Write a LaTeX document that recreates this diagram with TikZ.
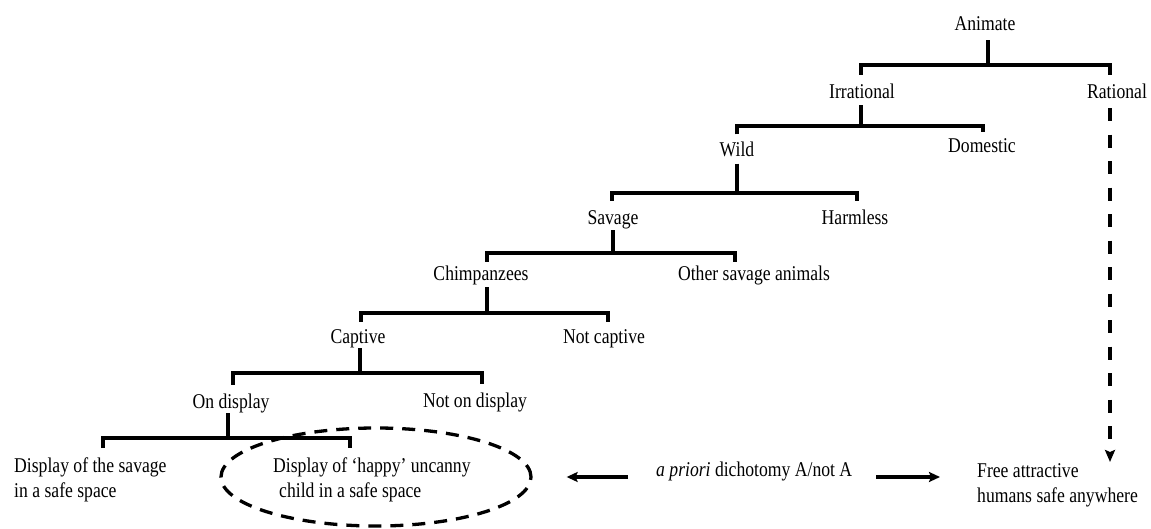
\documentclass[tikz,border=0pt]{standalone}
\usepackage{fontspec}
\setmainfont{Liberation Serif}[FakeStretch=0.84]
\usetikzlibrary{calc,shapes.geometric,arrows.meta}

\tikzset{
    lbl/.style={inner sep=0pt, text height=15pt, text depth=4pt,
        font=\fontsize{21}{25}\selectfont},
    lbltwo/.style={inner sep=0pt, align=left, anchor=north west,
        font=\fontsize{21}{25}\selectfont},
    tree/.style={line width=3.3pt, line join=miter},
    hint/.style={line width=3.3pt, -{Stealth[length=11pt,width=10pt,inset=2pt]}},
    dasharrow/.style={line width=3.3pt, dash pattern=on 13pt off 13.5pt,
        -{Stealth[length=12pt,width=10pt,inset=2pt]}},
}

\begin{document}
\begin{tikzpicture}[x=1pt, y=-1pt]
    \useasboundingbox (0,0) rectangle (1151,529);

    % categories, top to bottom
    \node[lbl] (animate)    at (985,25.5)  {Animate};
    \node[lbl] (irrational) at (862,93.5)  {Irrational};
    \node[lbl] (rational)   at (1117,93.5) {Rational};
    \node[lbl] (wild)       at (737,151)   {Wild};
    \node[lbl] (domestic)   at (982,147)   {Domestic};
    \node[lbl] (savage)     at (613,219.5) {Savage};
    \node[lbl] (harmless)   at (855,219.5) {Harmless};
    \node[lbl] (chimps)     at (481,274.5) {Chimpanzees};
    \node[lbl] (othersav)   at (754,274.5) {Other savage animals};
    \node[lbl] (captive)    at (358,337.5) {Captive};
    \node[lbl] (notcapt)    at (604,337.5) {Not captive};
    \node[lbl] (ondisp)     at (231,402.5) {On display};
    \node[lbl] (notondisp)  at (475,401.5) {Not on display};

    \node[lbltwo] (savdisp)   at (14,458)  {Display of the savage\\in a safe space};
    \node[lbltwo] (happydisp) at (273,458) {Display of `happy' uncanny\\\hspace*{6pt}child in a safe space};
    \node[lbltwo] (free)      at (977,463) {Free attractive\\humans safe anywhere};
    \node[lbl, anchor=west] (apriori) at (656,470.5) {\textit{a priori} dichotomy A/not A};

    % the uncanny child
    \node[draw, ellipse, line width=3.3pt, dash pattern=on 13pt off 9pt,
        minimum width=310pt, minimum height=98pt] (halo) at (376,477) {};

    % bars of the tree
    \coordinate (bA) at (988,65);
    \coordinate (bI) at (861,126);
    \coordinate (bW) at (737,193);
    \coordinate (bS) at (613,253);
    \coordinate (bC) at (487,313);
    \coordinate (bP) at (360,373);
    \coordinate (bD) at (228,438);

    \draw[tree] (animate.south -| bA) ++(0,5) -- (bA);
    \draw[tree] ($(irrational.north)+(-1,-9)$) |- (bA) -| ($(rational.north)+(-7,-9)$);

    \draw[tree] (irrational.south -| bI) ++(0,2) -- (bI);
    \draw[tree] ($(wild.north)+(0,-7)$) |- (bI) -| ($(domestic.north)+(1,-5)$);

    \draw[tree] (wild.south -| bW) ++(0,3) -- (bW);
    \draw[tree] ($(savage.north)+(-1,-9)$) |- (bW) -| ($(harmless.north)+(2,-9)$);

    \draw[tree] (savage.south -| bS) ++(0,1) -- (bS);
    \draw[tree] ($(chimps.north)+(6,-3)$) |- (bS) -| ($(othersav.north)+(-19,-3)$);

    \draw[tree] (chimps.south -| bC) ++(0,3) -- (bC);
    \draw[tree] ($(captive.north)+(3,-6)$) |- (bC) -| ($(notcapt.north)+(4,-6)$);

    \draw[tree] (captive.south -| bP) ++(0,1) -- (bP);
    \draw[tree] ($(ondisp.north)+(2,-8)$) |- (bP) -| ($(notondisp.north)+(7,-8)$);

    \draw[tree] (ondisp.south -| bD) ++(0,1) -- (bD);
    \draw[tree] ($(savdisp.north west)+(89,-10)$) |- (bD) -| ($(happydisp.north west)+(77,-10)$);

    % rational side and the dichotomy
    \draw[dasharrow] ($(rational.south)+(-7,5)$) -- ($(rational.south |- free.north)+(-7,-1)$);
    \draw[hint] ($(apriori.west |- halo.east)+(-28,0)$) -- ($(halo.east)+(34,0)$);
    \draw[hint] ($(apriori.east |- halo.east)+(24,0)$) -- ($(free.west |- halo.east)+(-37,0)$);
\end{tikzpicture}
\end{document}
